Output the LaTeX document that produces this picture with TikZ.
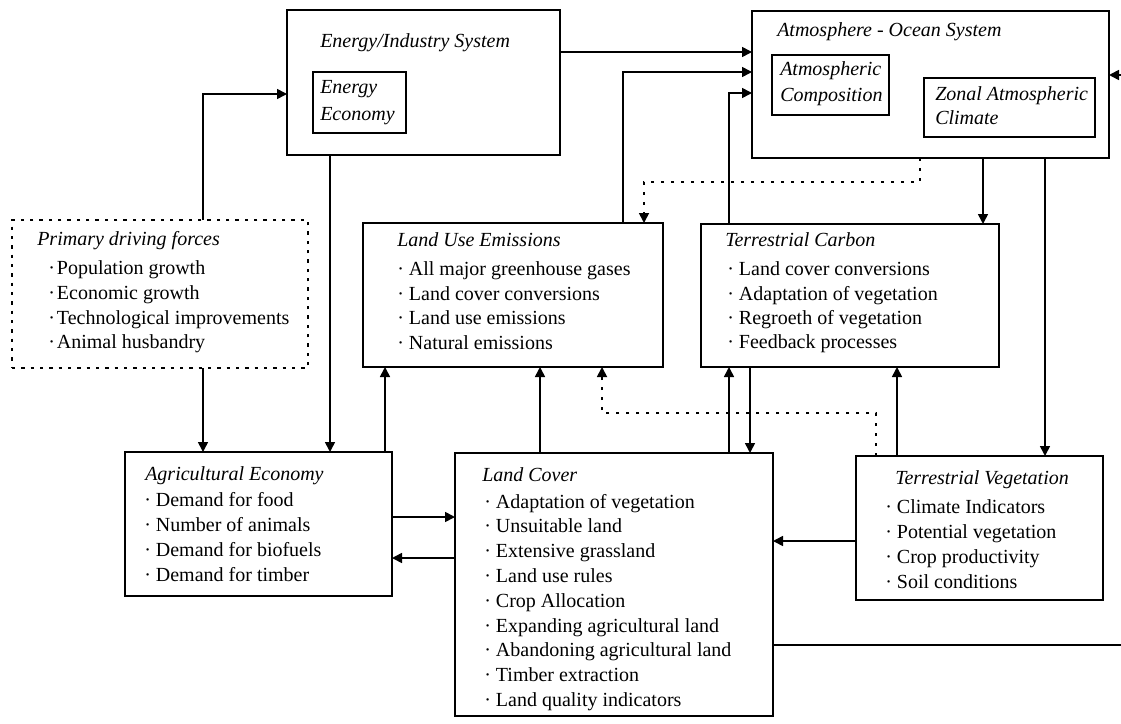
\documentclass[tikz,border=0pt]{standalone}
\usepackage{fontspec}
\setmainfont{Liberation Serif}
\usetikzlibrary{arrows.meta,fit}
\tikzset{
  box/.style={draw, line width=1.35pt, inner sep=0pt, outer sep=0pt},
  dbox/.style={box, line width=1.3pt, dash pattern=on 2.5pt off 4.5pt},
  txt/.style={anchor=mid west, inner sep=0pt, font=\fontsize{15}{18}\selectfont},
  ttl/.style={anchor=mid west, inner sep=0pt, font=\fontsize{15}{18}\selectfont\itshape},
  arr/.style={line width=1.25pt, -{Triangle[length=7.5pt,width=7.5pt]}},
  ln/.style={line width=1.25pt},
  dotarr/.style={line width=1.3pt, dash pattern=on 2.5pt off 5pt, -{Triangle[length=7.5pt,width=7.5pt]}}
}
\begin{document}
\begin{tikzpicture}[x=0.75pt,y=-0.75pt]
\useasboundingbox (0,0) rectangle (1121,724);
\fill[white] (0,0) rectangle (1121,724);

% ---------- boxes ----------
\node[box, fit={(287,10) (560,155)}] (energy) {};
\node[box, fit={(313,72) (406,133)}] (eecon) {};
\node[box, fit={(752,11) (1109,158)}] (atmos) {};
\node[box, fit={(772,55) (889,115)}] (acomp) {};
\node[box, fit={(924,78) (1095,137)}] (zonal) {};
\node[dbox, fit={(12,220) (308,368)}] (pdf) {};
\node[box, fit={(363,223) (663,367)}] (lue) {};
\node[box, fit={(701,224) (999,367)}] (tc) {};
\node[box, fit={(125,452) (392,596)}] (agri) {};
\node[box, fit={(455,453) (773,716)}] (lc) {};
\node[box, fit={(856,456) (1103,600)}] (tv) {};

% ---------- texts ----------
\node[ttl] (energyT) at (320,44) {Energy/Industry System};
\node[ttl] (eeconA) at (320,90) {Energy};
\node[ttl] (eeconB) at (320,117) {Economy};
\node[ttl] (atmosT) at (777,33) {Atmosphere - Ocean System};
\node[ttl] (acompA) at (780,72) {Atmospheric};
\node[ttl] (acompB) at (780,98) {Composition};
\node[ttl] (zonalA) at (935,97) {Zonal Atmospheric};
\node[ttl] (zonalB) at (935,121) {Climate};

\node[ttl] (pdfT) at (37,242) {Primary driving forces};
\node[txt] (pdf1) at (48,271) {·\kern1.5pt Population growth};
\node[txt] (pdf2) at (48,296) {·\kern1.5pt Economic growth};
\node[txt] (pdf3) at (48,321) {·\kern1.5pt Technological improvements};
\node[txt] (pdf4) at (48,345) {·\kern1.5pt Animal husbandry};

\node[ttl] (lueT) at (397,243) {Land Use Emissions};
\node[txt] (lue1) at (397,272) {·\ All major greenhouse gases};
\node[txt] (lue2) at (397,297) {·\ Land cover conversions};
\node[txt] (lue3) at (397,321) {·\ Land use emissions};
\node[txt] (lue4) at (397,346) {·\ Natural emissions};

\node[ttl] (tcT) at (725,243) {Terrestrial Carbon};
\node[txt] (tc1) at (727,272) {·\ Land cover conversions};
\node[txt] (tc2) at (727,297) {·\ Adaptation of vegetation};
\node[txt] (tc3) at (727,321) {·\ Regroeth of vegetation};
\node[txt] (tc4) at (727,345) {·\ Feedback processes};

\node[ttl] (agriT) at (145,477) {Agricultural Economy};
\node[txt] (agri1) at (144,503) {·\ Demand for food};
\node[txt] (agri2) at (144,528) {·\ Number of animals};
\node[txt] (agri3) at (144,553) {·\ Demand for biofuels};
\node[txt] (agri4) at (144,578) {·\ Demand for timber};

\node[ttl] (lcT) at (482,478) {Land Cover};
\node[txt] (lc1) at (484,505) {·\ Adaptation of vegetation};
\node[txt] (lc2) at (484,529) {·\ Unsuitable land};
\node[txt] (lc3) at (484,554) {·\ Extensive grassland};
\node[txt] (lc4) at (484,579) {·\ Land use rules};
\node[txt] (lc5) at (484,604) {·\ Crop Allocation};
\node[txt] (lc6) at (484,629) {·\ Expanding agricultural land};
\node[txt] (lc7) at (484,653) {·\ Abandoning agricultural land};
\node[txt] (lc8) at (484,678) {·\ Timber extraction};
\node[txt] (lc9) at (484,703) {·\ Land quality indicators};

\node[ttl] (tvT) at (895,481) {Terrestrial Vegetation};
\node[txt] (tv1) at (885,510) {·\ Climate Indicators};
\node[txt] (tv2) at (885,535) {·\ Potential vegetation};
\node[txt] (tv3) at (885,560) {·\ Crop productivity};
\node[txt] (tv4) at (885,585) {·\ Soil conditions};

% ---------- helper coordinates ----------
\coordinate (c203) at (203,0);
\coordinate (c330) at (330,0);
\coordinate (c385) at (385,0);
\coordinate (c540) at (540,0);
\coordinate (c602) at (602,0);
\coordinate (c623) at (623,0);
\coordinate (c644) at (644,0);
\coordinate (c729) at (729,0);
\coordinate (c750) at (750,0);
\coordinate (c876) at (876,0);
\coordinate (c897) at (897,0);
\coordinate (c920) at (920,0);
\coordinate (c983) at (983,0);
\coordinate (c1045) at (1045,0);
\coordinate (y52) at (0,52);
\coordinate (y72) at (0,72);
\coordinate (y93) at (0,93);
\coordinate (y94) at (0,94);
\coordinate (y182) at (0,182);
\coordinate (y413) at (0,413);
\coordinate (y517) at (0,517);
\coordinate (y541) at (0,541);
\coordinate (y558) at (0,558);
\coordinate (redge) at (1121,75);
\coordinate (redgeB) at (1121,645);

% ---------- connectors ----------
\draw[arr] (pdf.north -| c203) |- (energy.west |- y94);
\draw[arr] (pdf.south -| c203) -- (agri.north -| c203);
\draw[arr] (energy.south -| c330) -- (agri.north -| c330);
\draw[arr] (energy.east |- y52) -- (atmos.west |- y52);
\draw[arr] (agri.north -| c385) -- (lue.south -| c385);
\draw[arr] (lue.north -| c623) |- (atmos.west |- y72);
\draw[arr] (tc.north -| c729) |- (atmos.west |- y93);
\draw[dotarr] (atmos.south -| c920) -- (c920 |- y182) -| (lue.north -| c644);
\draw[arr] (atmos.south -| c983) -- (tc.north -| c983);
\draw[arr] (atmos.south -| c1045) -- (tv.north -| c1045);
\draw[arr] (redge) -- (atmos.east |- redge);
\draw[arr] (lc.north -| c540) -- (lue.south -| c540);
\draw[dotarr] (tv.north -| c876) -- (c876 |- y413) -| (lue.south -| c602);
\draw[arr] (lc.north -| c729) -- (tc.south -| c729);
\draw[arr] (tc.south -| c750) -- (lc.north -| c750);
\draw[arr] (tv.north -| c897) -- (tc.south -| c897);
\draw[arr] (tv.west |- y541) -- (lc.east |- y541);
\draw[arr] (agri.east |- y517) -- (lc.west |- y517);
\draw[arr] (lc.west |- y558) -- (agri.east |- y558);
\draw[ln] (lc.east |- redgeB) -- (redgeB);
\end{tikzpicture}
\end{document}
